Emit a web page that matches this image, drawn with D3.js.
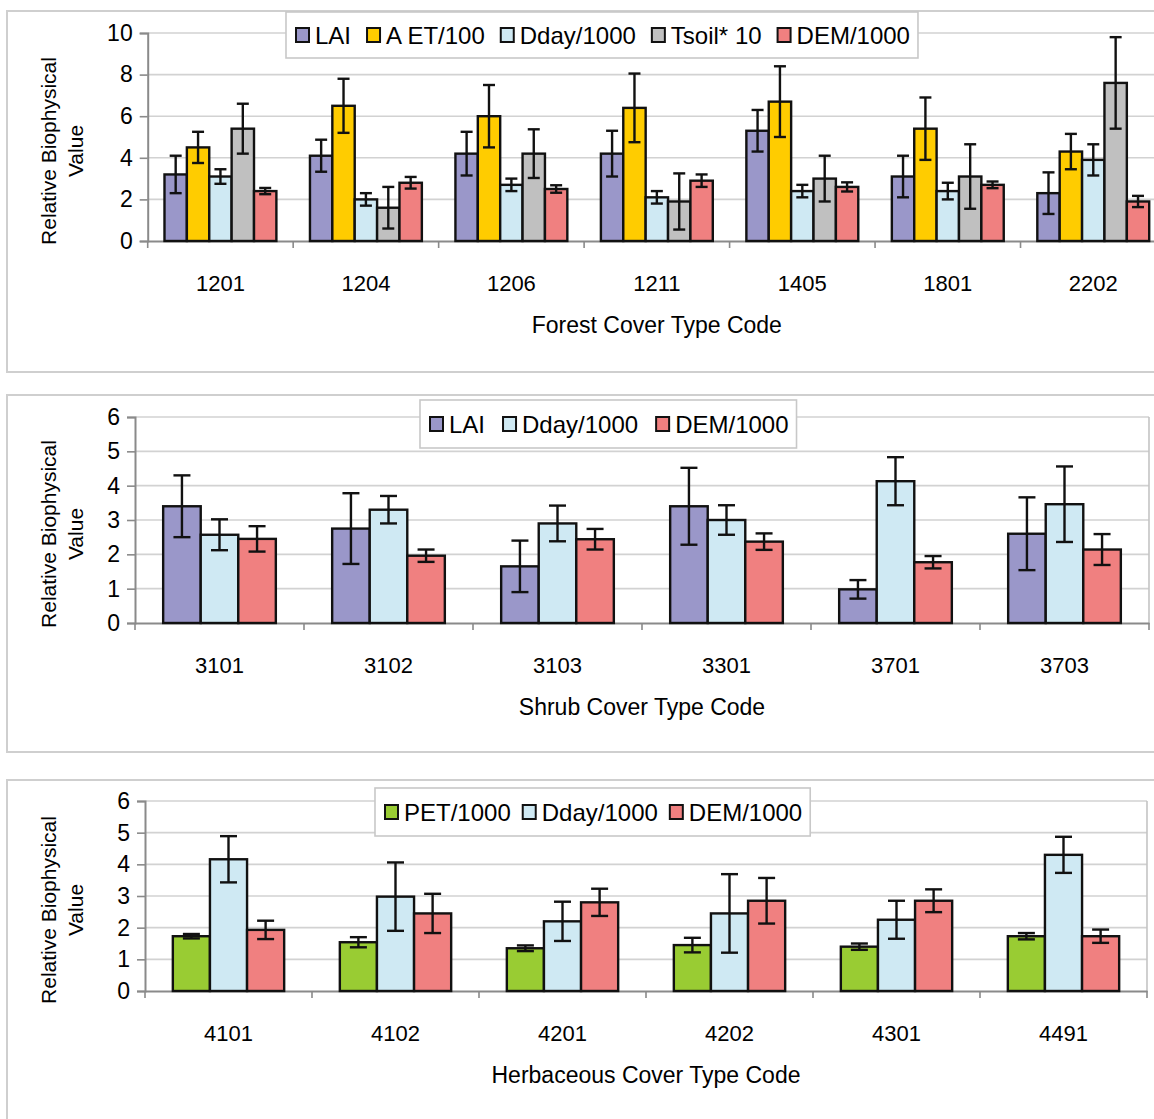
<!DOCTYPE html>
<html><head><meta charset="utf-8">
<script src="https://cdn.jsdelivr.net/npm/d3@7"></script>
<style>
body{margin:0;background:#fff}
svg{display:block}
text{font-family:"Liberation Sans",Arial,Helvetica,sans-serif;fill:#000}
</style>
</head><body>
<svg id="c" width="1154" height="1119"></svg>
<script>
// ---------------- DATA ----------------
// Forest panel
const forestCategories = ["1201","1204","1206","1211","1405","1801","2202"];
const forestLAI      = [3.2, 4.1, 4.2, 4.2, 5.3, 3.1, 2.3];
const forestLAIErr   = [0.9, 0.77, 1.05, 1.1, 1.0, 1.0, 1.0];
const forestAET      = [4.5, 6.5, 6.0, 6.4, 6.7, 5.4, 4.3];
const forestAETErr   = [0.75, 1.3, 1.5, 1.65, 1.7, 1.5, 0.85];
const forestDday     = [3.1, 2.0, 2.7, 2.1, 2.4, 2.4, 3.9];
const forestDdayErr  = [0.35, 0.3, 0.3, 0.3, 0.3, 0.4, 0.75];
const forestTsoil    = [5.4, 1.6, 4.2, 1.9, 3.0, 3.1, 7.6];
const forestTsoilErr = [1.2, 1.0, 1.17, 1.35, 1.1, 1.55, 2.2];
const forestDEM      = [2.4, 2.8, 2.5, 2.9, 2.6, 2.7, 1.9];
const forestDEMErr   = [0.15, 0.28, 0.18, 0.3, 0.22, 0.16, 0.27];
const forestTicks    = [0, 2, 4, 6, 8, 10];

// Shrub panel
const shrubCategories = ["3101","3102","3103","3301","3701","3703"];
const shrubLAI      = [3.4, 2.75, 1.65, 3.4, 0.98, 2.6];
const shrubLAIErr   = [0.9, 1.03, 0.75, 1.12, 0.27, 1.06];
const shrubDday     = [2.57, 3.3, 2.9, 3.0, 4.13, 3.46];
const shrubDdayErr  = [0.45, 0.4, 0.52, 0.43, 0.7, 1.1];
const shrubDEM      = [2.45, 1.96, 2.44, 2.37, 1.77, 2.14];
const shrubDEMErr   = [0.37, 0.18, 0.3, 0.24, 0.18, 0.45];
const shrubTicks    = [0, 1, 2, 3, 4, 5, 6];

// Herbaceous panel
const herbCategories = ["4101","4102","4201","4202","4301","4491"];
const herbPET      = [1.73, 1.54, 1.35, 1.45, 1.4, 1.73];
const herbPETErr   = [0.07, 0.16, 0.09, 0.23, 0.1, 0.1];
const herbDday     = [4.16, 2.98, 2.2, 2.45, 2.25, 4.3];
const herbDdayErr  = [0.73, 1.08, 0.62, 1.24, 0.6, 0.57];
const herbDEM      = [1.93, 2.45, 2.8, 2.85, 2.85, 1.73];
const herbDEMErr   = [0.29, 0.62, 0.43, 0.72, 0.36, 0.21];
const herbTicks    = [0, 1, 2, 3, 4, 5, 6];

// ---------------- STYLE ----------------
const C = {LAI:"#9a97c9", AET:"#ffcc00", Dday:"#cfe9f3", Tsoil:"#c0c0c0", DEM:"#f08080", PET:"#99cc33"};

const panels = [
  {
    box:{x:7,y:11,w:1165,h:361},
    plot:{left:147.7,right:1166,top:33,bottom:241},
    ticks:forestTicks, cats:forestCategories, cap:12,
    legend:{x:286,y:12,h:46,gap:16},
    xTitle:"Forest Cover Type Code", rightBorder:false,
    series:[
      {name:"LAI", color:C.LAI, v:forestLAI, e:forestLAIErr},
      {name:"A ET/100", color:C.AET, v:forestAET, e:forestAETErr},
      {name:"Dday/1000", color:C.Dday, v:forestDday, e:forestDdayErr},
      {name:"Tsoil* 10", color:C.Tsoil, v:forestTsoil, e:forestTsoilErr},
      {name:"DEM/1000", color:C.DEM, v:forestDEM, e:forestDEMErr}
    ]
  },
  {
    box:{x:7,y:395,w:1165,h:357},
    plot:{left:135,right:1149,top:417,bottom:623},
    ticks:shrubTicks, cats:shrubCategories, cap:17,
    legend:{x:420,y:400,h:48,gap:18},
    xTitle:"Shrub Cover Type Code", rightBorder:true,
    series:[
      {name:"LAI", color:C.LAI, v:shrubLAI, e:shrubLAIErr},
      {name:"Dday/1000", color:C.Dday, v:shrubDday, e:shrubDdayErr},
      {name:"DEM/1000", color:C.DEM, v:shrubDEM, e:shrubDEMErr}
    ]
  },
  {
    box:{x:7,y:780,w:1165,h:360},
    plot:{left:145,right:1147,top:801,bottom:991},
    ticks:herbTicks, cats:herbCategories, cap:17,
    legend:{x:375,y:788,h:48,gap:12},
    xTitle:"Herbaceous Cover Type Code", rightBorder:true,
    series:[
      {name:"PET/1000", color:C.PET, v:herbPET, e:herbPETErr},
      {name:"Dday/1000", color:C.Dday, v:herbDday, e:herbDdayErr},
      {name:"DEM/1000", color:C.DEM, v:herbDEM, e:herbDEMErr}
    ]
  }
];

const svg = d3.select("#c");
svg.append("rect").attr("width",1154).attr("height",1119).attr("fill","#fff");

panels.forEach(p => {
  const g = svg.append("g");
  // panel frame
  g.append("rect").attr("x",p.box.x).attr("y",p.box.y).attr("width",p.box.w).attr("height",p.box.h)
    .attr("fill","#fff").attr("stroke","#cfcfcf").attr("stroke-width",2);

  const ymax = d3.max(p.ticks);
  const y = d3.scaleLinear().domain([0,ymax]).range([p.plot.bottom,p.plot.top]);
  const x = d3.scaleBand().domain(p.cats).range([p.plot.left,p.plot.right]).paddingInner(0).paddingOuter(0);
  const xs = d3.scaleBand().domain(p.series.map(s=>s.name)).range([0,x.bandwidth()]).paddingInner(0).paddingOuter(0.75);

  // gridlines
  g.append("g").selectAll("line").data(p.ticks.filter(t=>t>0)).join("line")
    .attr("x1",p.plot.left).attr("x2",p.plot.right)
    .attr("y1",d=>y(d)).attr("y2",d=>y(d))
    .attr("stroke","#d2d2d2").attr("stroke-width",1.6);
  if (p.rightBorder) {
    g.append("line").attr("x1",p.plot.right).attr("x2",p.plot.right)
      .attr("y1",p.plot.top).attr("y2",p.plot.bottom)
      .attr("stroke","#c4c4c4").attr("stroke-width",1.6);
  }

  // y axis
  const yAxis = d3.axisLeft(y).tickValues(p.ticks).tickSize(8).tickPadding(7).tickFormat(d3.format("d"));
  const ya = g.append("g").attr("transform",`translate(${p.plot.left},0)`).call(yAxis);
  ya.select(".domain").attr("stroke","#8a8a8a").attr("stroke-width",2);
  ya.selectAll(".tick line").attr("stroke","#8a8a8a").attr("stroke-width",1.6);
  ya.selectAll(".tick text").attr("font-size",23).attr("font-family","Liberation Sans, Arial, sans-serif").attr("fill","#000");

  // x axis
  const xAxis = d3.axisBottom(x).tickSize(0).tickPadding(0);
  const xa = g.append("g").attr("transform",`translate(0,${p.plot.bottom})`).call(xAxis);
  xa.select(".domain").attr("stroke","#8a8a8a").attr("stroke-width",2);
  xa.selectAll(".tick text").attr("font-size",22).attr("font-family","Liberation Sans, Arial, sans-serif")
    .attr("fill","#000").attr("dy",0).attr("y",50);
  // category boundary ticks
  const bounds = p.cats.map(c=>x(c)).concat([p.plot.right]);
  g.append("g").selectAll("line").data(bounds).join("line")
    .attr("x1",d=>d).attr("x2",d=>d).attr("y1",p.plot.bottom).attr("y2",p.plot.bottom+7)
    .attr("stroke","#8a8a8a").attr("stroke-width",1.6);

  // bars
  p.series.forEach(s => {
    const sg = g.append("g");
    sg.selectAll("rect").data(p.cats).join("rect")
      .attr("x",(c)=>x(c)+xs(s.name))
      .attr("width",xs.bandwidth())
      .attr("y",(c,i)=>y(s.v[i]))
      .attr("height",(c,i)=>y(0)-y(s.v[i]))
      .attr("fill",s.color).attr("stroke","#111").attr("stroke-width",2.4);
  });
  // error bars
  p.series.forEach(s => {
    const eg = g.append("g").attr("stroke","#111").attr("stroke-width",2.4);
    p.cats.forEach((c,i) => {
      const cx = x(c)+xs(s.name)+xs.bandwidth()/2;
      const hi = y(s.v[i]+s.e[i]), lo = y(s.v[i]-s.e[i]);
      eg.append("line").attr("x1",cx).attr("x2",cx).attr("y1",hi).attr("y2",lo);
      eg.append("line").attr("x1",cx-p.cap/2).attr("x2",cx+p.cap/2).attr("y1",hi).attr("y2",hi);
      eg.append("line").attr("x1",cx-p.cap/2).attr("x2",cx+p.cap/2).attr("y1",lo).attr("y2",lo);
    });
  });

  // x title
  g.append("text").attr("x",(p.plot.left+p.plot.right)/2).attr("y",p.plot.bottom+84)
    .attr("text-anchor","middle").attr("dominant-baseline","central")
    .attr("font-size",23).text(p.xTitle);

  // y title (two lines)
  const cy = (p.plot.top+p.plot.bottom)/2 + 14;
  [["Relative Biophysical",48],["Value",75]].forEach(([t,xx]) => {
    g.append("text").attr("transform",`translate(${xx},${cy}) rotate(-90)`)
      .attr("text-anchor","middle").attr("dominant-baseline","central")
      .attr("font-size",21).text(t);
  });

  // legend
  const L = p.legend;
  const lg = g.append("g");
  const bg = lg.append("rect").attr("x",L.x).attr("y",L.y).attr("height",L.h)
    .attr("fill","#fff").attr("stroke","#c8c8c8").attr("stroke-width",1.6);
  let cx = L.x + 10;
  const my = L.y + L.h/2;
  p.series.forEach((s,i) => {
    lg.append("rect").attr("x",cx).attr("y",my-7).attr("width",13).attr("height",14)
      .attr("fill",s.color).attr("stroke","#111").attr("stroke-width",2);
    const t = lg.append("text").attr("x",cx+19).attr("y",my).attr("dominant-baseline","central")
      .attr("font-size",24).text(s.name);
    const w = t.node().getComputedTextLength();
    cx += 19 + w + (i < p.series.length-1 ? L.gap : 8);
  });
  bg.attr("width",cx - L.x);
});
</script>
</body></html>
